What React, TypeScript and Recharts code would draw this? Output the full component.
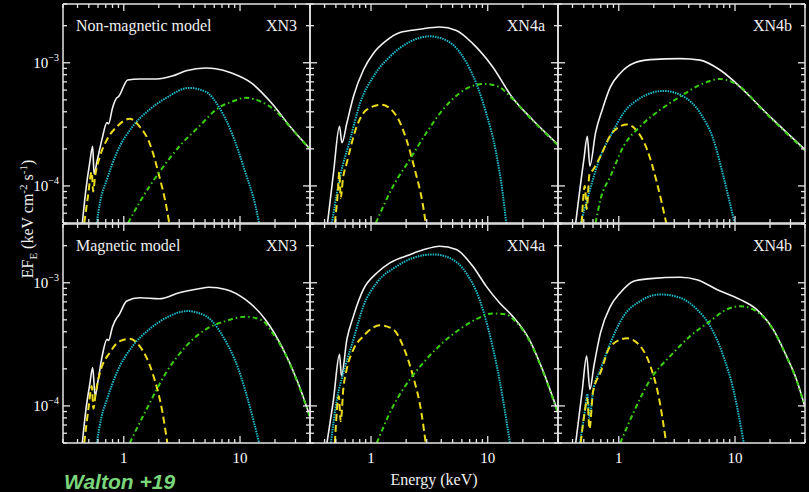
import React from 'react';
import { LineChart, Line, XAxis, YAxis } from 'recharts';

type Pt = [number, number];

// Axis ticks
const xTicks = [0.3, 0.4, 0.5, 0.6, 0.7, 0.8, 0.9, 1, 2, 3, 4, 5, 6, 7, 8, 9, 10, 20, 30, 40];
const yTicks = [5e-5, 6e-5, 7e-5, 8e-5, 9e-5, 1e-4, 2e-4, 3e-4, 4e-4, 5e-4, 6e-4, 7e-4, 8e-4, 9e-4, 1e-3, 2e-3, 3e-3];
const xDomain: [number, number] = [0.3, 40];
const yDomain: [number, number] = [5e-5, 3e-3];

const rowTitles = ['Non-magnetic model', 'Magnetic model'];
const modelNames = ['XN3', 'XN4a', 'XN4b'];

// ---- Non-magnetic, XN3 ----
const nmXN3Total: Pt[] = [[0.44,5e-5],[0.47,9e-5],[0.51,1.55e-4],[0.54,2.1e-4],[0.555,1.25e-4],[0.59,1.6e-4],[0.65,2.4e-4],[0.717,3.27e-4],[0.74,3.2e-4],[0.8,4.3e-4],[0.872,5.19e-4],[0.9,5.3e-4],[1.08,7.25e-4],[1.37,7.39e-4],[1.91,7.39e-4],[2.61,7.8e-4],[3.44,8.6e-4],[5.09,9.06e-4],[6.19,8.95e-4],[8.47,8.26e-4],[12.5,6.86e-4],[18.6,4.73e-4],[27.5,2.97e-4],[40,2.0e-4]];
const nmXN3Cool: Pt[] = [[0.457,5e-5],[0.49,8e-5],[0.53,1.3e-4],[0.545,9e-5],[0.567,1.2e-4],[0.625,1.75e-4],[0.717,2.38e-4],[0.872,3.03e-4],[1.125,3.51e-4],[1.37,3.03e-4],[1.66,2.25e-4],[2.02,1.2e-4],[2.32,6.86e-5],[2.46,5e-5]];
const nmXN3Hot: Pt[] = [[0.586,5e-5],[0.625,7.38e-5],[0.717,1.13e-4],[0.872,1.87e-4],[1.19,3.03e-4],[1.66,4.16e-4],[2.32,5.19e-4],[3.65,6.25e-4],[5.09,5.81e-4],[6.56,4.4e-4],[8.47,2.71e-4],[11.1,1.29e-4],[13.6,6.86e-5],[14.6,5e-5]];
const nmXN3Pulsar: Pt[] = [[1.09,5e-5],[1.37,7.38e-5],[2.02,1.29e-4],[3.0,2.09e-4],[4.43,3.03e-4],[6.56,4.32e-4],[8.47,4.82e-4],[11.1,5.19e-4],[15.2,4.82e-4],[20,4.1e-4],[27.5,2.94e-4],[40,1.98e-4]];

// ---- Magnetic, XN3 ----
const mXN3Total: Pt[] = [[0.44,5e-5],[0.47,9e-5],[0.51,1.5e-4],[0.54,2.05e-4],[0.567,1.2e-4],[0.6,1.6e-4],[0.65,2.5e-4],[0.717,3.47e-4],[0.74,3.4e-4],[0.8,4.4e-4],[0.872,5.2e-4],[0.9,5.4e-4],[1.06,7.1e-4],[1.37,7.55e-4],[2.02,7.41e-4],[3.0,8.3e-4],[4.43,8.94e-4],[5.4,9.2e-4],[7.54,8.83e-4],[11.1,7.32e-4],[16.5,5.04e-4],[22.8,3.06e-4],[31.5,1.55e-4],[40,8.2e-5]];
const mXN3Cool: Pt[] = [[0.457,5e-5],[0.5,1.0e-4],[0.53,1.45e-4],[0.548,9.5e-5],[0.575,1.3e-4],[0.625,1.87e-4],[0.76,2.72e-4],[0.925,3.36e-4],[1.125,3.51e-4],[1.37,3.06e-4],[1.76,1.87e-4],[2.15,8.9e-5],[2.37,5e-5]];
const mXN3Hot: Pt[] = [[0.586,5e-5],[0.64,8e-5],[0.717,1.13e-4],[0.872,1.87e-4],[1.19,3.06e-4],[1.66,4.19e-4],[2.32,5.2e-4],[3.5,5.89e-4],[5.09,5.36e-4],[6.96,3.81e-4],[9.7,1.98e-4],[12.5,8.9e-5],[14.6,5e-5]];
const mXN3Pulsar: Pt[] = [[1.125,5e-5],[1.57,9.4e-5],[2.32,1.87e-4],[3.44,3.06e-4],[5.09,4.19e-4],[7.54,4.89e-4],[11.1,5.3e-4],[15.2,5.0e-4],[20,3.65e-4],[22.8,3.0e-4],[31.5,1.52e-4],[40,8.1e-5]];

// ---- Non-magnetic, XN4a ----
const nmXN4aTotal: Pt[] = [[0.424,5e-5],[0.477,1.28e-4],[0.537,3.05e-4],[0.563,2.24e-4],[0.621,3.24e-4],[0.707,5.32e-4],[0.86,8.73e-4],[1.046,1.19e-3],[1.36,1.52e-3],[1.77,1.76e-3],[2.62,1.87e-3],[3.87,1.95e-3],[5.38,1.83e-3],[7.45,1.43e-3],[11.0,9.29e-4],[16.3,5.2e-4],[24.2,3.45e-4],[40,2.17e-4]];
const nmXN4aCool: Pt[] = [[0.49,5e-5],[0.52,9e-5],[0.535,1.3e-4],[0.55,8e-5],[0.575,1.15e-4],[0.621,1.55e-4],[0.755,3.05e-4],[0.919,4.16e-4],[1.23,4.56e-4],[1.66,3.67e-4],[2.01,2.38e-4],[2.37,1.36e-4],[2.79,6.9e-5],[2.94,5e-5]];
const nmXN4aHot: Pt[] = [[0.462,5e-5],[0.544,1.2e-4],[0.662,2.38e-4],[0.806,4.71e-4],[1.046,7.71e-4],[1.45,1.12e-3],[2.15,1.48e-3],[3.18,1.64e-3],[4.42,1.52e-3],[6.12,1.12e-3],[7.96,6.82e-4],[9.69,3.91e-4],[11.8,1.86e-4],[13.4,8.85e-5],[14.4,5e-5]];
const nmXN4aPulsar: Pt[] = [[1.1,5e-5],[1.55,1.0e-4],[2.15,1.64e-4],[2.98,2.7e-4],[4.13,4.16e-4],[5.74,5.67e-4],[7.96,6.61e-4],[9.69,6.73e-4],[12.6,6.33e-4],[16.3,5.1e-4],[24.2,3.4e-4],[40,2.14e-4]];

// ---- Magnetic, XN4a ----
const mXN4aTotal: Pt[] = [[0.419,5e-5],[0.477,1.13e-4],[0.537,2.62e-4],[0.558,1.75e-4],[0.621,3.47e-4],[0.707,5.36e-4],[0.86,8.83e-4],[1.12,1.2e-3],[1.45,1.45e-3],[2.15,1.69e-3],[2.8,1.85e-3],[3.87,1.98e-3],[5.38,1.86e-3],[7.45,1.36e-3],[9.69,9.39e-4],[12.6,6.88e-4],[16.3,5.36e-4],[22.7,3.47e-4],[29.4,1.98e-4],[40,8.9e-5]];
const mXN4aCool: Pt[] = [[0.49,5e-5],[0.53,1.2e-4],[0.55,7.5e-5],[0.58,1.4e-4],[0.62,2.0e-4],[0.707,2.88e-4],[0.86,3.69e-4],[1.19,4.51e-4],[1.55,4.19e-4],[1.88,3.06e-4],[2.29,1.75e-4],[2.7,8.85e-5],[2.94,5e-5]];
const mXN4aHot: Pt[] = [[0.453,5e-5],[0.51,1.13e-4],[0.581,1.87e-4],[0.707,3.47e-4],[0.86,6.46e-4],[1.12,1.0e-3],[1.66,1.36e-3],[2.29,1.59e-3],[3.4,1.7e-3],[4.72,1.59e-3],[6.54,1.2e-3],[8.5,7.33e-4],[10.3,3.94e-4],[12.6,1.64e-4],[14.4,7.8e-5],[15.5,5e-5]];
const mXN4aPulsar: Pt[] = [[1.12,5e-5],[1.55,1.0e-4],[2.15,1.64e-4],[2.98,2.39e-4],[4.13,3.27e-4],[5.74,4.19e-4],[7.96,5.05e-4],[11.0,5.64e-4],[14.4,5.53e-4],[17.5,4.8e-4],[22.7,3.4e-4],[29.4,1.95e-4],[40,8.7e-5]];

// ---- Non-magnetic, XN4b ----
const nmXN4bTotal: Pt[] = [[0.426,5e-5],[0.501,1.64e-4],[0.536,2.53e-4],[0.564,1.45e-4],[0.631,2.7e-4],[0.721,4.16e-4],[0.849,6.4e-4],[1.03,8.22e-4],[1.34,9.89e-4],[1.87,1.06e-3],[3.38,1.08e-3],[5.01,1.05e-3],[7.44,8.73e-4],[11.0,6.4e-4],[15.3,4.71e-4],[21.3,3.45e-4],[40,1.97e-4]];
const nmXN4bCool: Pt[] = [[0.48,5e-5],[0.51,1.0e-4],[0.53,6.5e-5],[0.56,1.25e-4],[0.6,1.35e-4],[0.697,1.75e-4],[0.878,2.7e-4],[1.18,3.15e-4],[1.44,2.78e-4],[1.75,1.98e-4],[2.13,1.06e-4],[2.56,5e-5]];
const nmXN4bHot: Pt[] = [[0.47,5e-5],[0.536,7.8e-5],[0.697,1.75e-4],[0.878,2.7e-4],[1.1,3.91e-4],[1.53,5.16e-4],[2.43,5.91e-4],[3.6,5.32e-4],[5.01,3.91e-4],[6.52,2.38e-4],[7.94,1.2e-4],[9.9,5e-5]];
const nmXN4bPulsar: Pt[] = [[0.631,5e-5],[0.697,7.8e-5],[0.849,1.2e-4],[1.1,2.1e-4],[1.53,3.05e-4],[2.28,4.16e-4],[3.38,5.32e-4],[5.01,6.61e-4],[7.44,7.39e-4],[9.67,6.9e-4],[12.6,5.75e-4],[15.3,4.66e-4],[21.3,3.4e-4],[40,1.94e-4]];

// ---- Magnetic, XN4b ----
const mXN4bTotal: Pt[] = [[0.426,5e-5],[0.486,1.36e-4],[0.529,2.54e-4],[0.564,1.36e-4],[0.611,2.11e-4],[0.697,3.94e-4],[0.849,6.46e-4],[1.03,8.3e-4],[1.34,1.03e-3],[1.87,1.08e-3],[3.38,1.11e-3],[4.7,1.06e-3],[6.97,8.83e-4],[11.0,7.33e-4],[15.3,6.08e-4],[21.3,4.19e-4],[27.7,2.54e-4],[33.8,1.64e-4],[40,9.8e-5]];
const mXN4bCool: Pt[] = [[0.47,5e-5],[0.51,9e-5],[0.536,1.15e-4],[0.56,6.5e-5],[0.6,1.3e-4],[0.697,1.87e-4],[0.849,3.06e-4],[1.18,3.54e-4],[1.53,3.06e-4],[1.87,2.11e-4],[2.2,1.2e-4],[2.56,5e-5]];
const mXN4bHot: Pt[] = [[0.463,5e-5],[0.51,9e-5],[0.536,1.25e-4],[0.56,8e-5],[0.6,1.3e-4],[0.697,1.98e-4],[0.849,3.27e-4],[1.1,5.36e-4],[1.53,7.1e-4],[2.28,8.04e-4],[3.38,7.55e-4],[4.7,6.08e-4],[6.11,4.45e-4],[7.94,2.54e-4],[9.67,1.36e-4],[11.9,5e-5]];
const mXN4bPulsar: Pt[] = [[1.03,5e-5],[1.34,8.85e-5],[1.87,1.64e-4],[2.77,2.54e-4],[4.12,3.69e-4],[6.11,4.89e-4],[8.49,6.08e-4],[11.0,6.46e-4],[14.3,6.08e-4],[21.3,4.15e-4],[27.7,2.52e-4],[33.8,1.62e-4],[40,9.7e-5]];

const SERIF = '"Liberation Serif", "Times New Roman", serif';
const AXIS = '#e6e6e6';
const WHITE = '#f2f2f2';
const YELLOW = '#eadc1c';
const CYAN = '#1cbccc';
const GREEN = '#3ccf10';

const toObj = (pts: Pt[]) => pts.map(([x, y]) => ({ x, y }));
const isMajor = (v: number) => {
  const l = Math.log10(v);
  return Math.abs(l - Math.round(l)) < 1e-6;
};

const makeXTick = (side: 'bottom' | 'top', showLabel: boolean) => (props: any) => {
  const { x, y, payload } = props;
  const v = payload.value as number;
  const major = isMajor(v);
  const len = major ? 7 : 4;
  const d = side === 'bottom' ? -1 : 1;
  return (
    <g>
      <line x1={x} y1={y} x2={x} y2={y + d * len} stroke={AXIS} strokeWidth={1.3} />
      {showLabel && major && side === 'bottom' ? (
        <text x={x} y={y + 20} textAnchor="middle" fill="#ffffff" fontSize={15} fontFamily={SERIF}>
          {String(v)}
        </text>
      ) : null}
    </g>
  );
};

const makeYTick = (side: 'left' | 'right', showLabel: boolean) => (props: any) => {
  const { x, y, payload } = props;
  const v = payload.value as number;
  const major = isMajor(v);
  const len = major ? 7 : 4;
  const d = side === 'left' ? 1 : -1;
  const exp = Math.round(Math.log10(v));
  return (
    <g>
      <line x1={x} y1={y} x2={x + d * len} y2={y} stroke={AXIS} strokeWidth={1.3} />
      {showLabel && major && side === 'left' ? (
        <text x={x - 4} y={y + 5} textAnchor="end" fill="#ffffff" fontSize={15} fontFamily={SERIF}>
          10<tspan dy={-7} fontSize={10}>{'\u2212' + String(-exp)}</tspan>
        </text>
      ) : null}
    </g>
  );
};

const cols = [
  { left: 63, w: 247 },
  { left: 310, w: 248 },
  { left: 558, w: 247 },
];
const rows = [
  { top: 4, h: 219 },
  { top: 224, h: 219 },
];

const panels = [
  { r: 0, c: 0, total: nmXN3Total, cool: nmXN3Cool, hot: nmXN3Hot, pulsar: nmXN3Pulsar },
  { r: 0, c: 1, total: nmXN4aTotal, cool: nmXN4aCool, hot: nmXN4aHot, pulsar: nmXN4aPulsar },
  { r: 0, c: 2, total: nmXN4bTotal, cool: nmXN4bCool, hot: nmXN4bHot, pulsar: nmXN4bPulsar },
  { r: 1, c: 0, total: mXN3Total, cool: mXN3Cool, hot: mXN3Hot, pulsar: mXN3Pulsar },
  { r: 1, c: 1, total: mXN4aTotal, cool: mXN4aCool, hot: mXN4aHot, pulsar: mXN4aPulsar },
  { r: 1, c: 2, total: mXN4bTotal, cool: mXN4bCool, hot: mXN4bHot, pulsar: mXN4bPulsar },
];

// chart margin around the plot (axes take 1px each)
const M = { top: 3, right: 5, bottom: 39, left: 59 };
const AX = 1;

function Panel({ p }: { p: (typeof panels)[number] }) {
  const col = cols[p.c];
  const row = rows[p.r];
  const showY = p.c === 0;
  const showX = p.r === 1;
  const axisLine = { stroke: AXIS, strokeWidth: 1.5 };
  const W = col.w + M.left + M.right + 2 * AX;
  const H = row.h + M.top + M.bottom + 2 * AX;
  return (
    <div style={{ position: 'absolute', left: col.left - M.left - AX, top: row.top - M.top - AX }}>
      <LineChart width={W} height={H} margin={M}>
        <XAxis
          xAxisId="b"
          dataKey="x"
          type="number"
          scale="log"
          domain={xDomain}
          allowDataOverflow
          ticks={xTicks}
          interval={0}
          height={AX}
          tickSize={0}
          tickMargin={0}
          tickLine={false}
          axisLine={axisLine}
          tick={makeXTick('bottom', showX)}
        />
        <XAxis
          xAxisId="t"
          orientation="top"
          dataKey="x"
          type="number"
          scale="log"
          domain={xDomain}
          allowDataOverflow
          ticks={xTicks}
          interval={0}
          height={AX}
          tickSize={0}
          tickMargin={0}
          tickLine={false}
          axisLine={axisLine}
          tick={makeXTick('top', false)}
        />
        <YAxis
          yAxisId="l"
          type="number"
          scale="log"
          domain={yDomain}
          allowDataOverflow
          ticks={yTicks}
          interval={0}
          width={AX}
          tickSize={0}
          tickMargin={0}
          tickLine={false}
          axisLine={axisLine}
          tick={makeYTick('left', showY)}
        />
        <YAxis
          yAxisId="r"
          orientation="right"
          type="number"
          scale="log"
          domain={yDomain}
          allowDataOverflow
          ticks={yTicks}
          interval={0}
          width={AX}
          tickSize={0}
          tickMargin={0}
          tickLine={false}
          axisLine={axisLine}
          tick={makeYTick('right', false)}
        />
        <Line xAxisId="b" yAxisId="l" data={toObj(p.total)} dataKey="y" type="monotone" stroke={WHITE} strokeWidth={1.6} dot={false} isAnimationActive={false} />
        <Line xAxisId="b" yAxisId="l" data={toObj(p.hot)} dataKey="y" type="monotone" stroke={CYAN} strokeWidth={2} strokeDasharray="1.5 1" dot={false} isAnimationActive={false} />
        <Line xAxisId="b" yAxisId="l" data={toObj(p.cool)} dataKey="y" type="monotone" stroke={YELLOW} strokeWidth={2} strokeDasharray="7 4" dot={false} isAnimationActive={false} />
        <Line xAxisId="b" yAxisId="l" data={toObj(p.pulsar)} dataKey="y" type="monotone" stroke={GREEN} strokeWidth={2} strokeDasharray="5 3 1.5 3" dot={false} isAnimationActive={false} />
      </LineChart>
    </div>
  );
}

export default function App() {
  return (
    <div style={{ position: 'absolute', left: 0, top: 0, width: 809, height: 492, background: '#000', overflow: 'hidden' }}>
      {panels.map((p, i) => (
        <Panel key={i} p={p} />
      ))}
      <svg width={809} height={492} style={{ position: 'absolute', left: 0, top: 0, pointerEvents: 'none' }}>
        {panels.map((p, i) => {
          const col = cols[p.c];
          const row = rows[p.r];
          return (
            <g key={i}>
              {p.c === 0 ? (
                <text x={col.left + 13} y={row.top + 27} fill="#f0f0f0" fontSize={16} fontFamily={SERIF}>
                  {rowTitles[p.r]}
                </text>
              ) : null}
              <text x={col.left + col.w - 13} y={row.top + 27} textAnchor="end" fill="#f0f0f0" fontSize={16} fontFamily={SERIF}>
                {modelNames[p.c]}
              </text>
            </g>
          );
        })}
        <text transform="translate(33,219) rotate(-90)" textAnchor="middle" fill="#f0f0f0" fontSize={16} fontFamily={SERIF}>
          EF<tspan dy={4} fontSize={11}>E</tspan>
          <tspan dy={-4}> (keV cm</tspan>
          <tspan dy={-6} fontSize={11}>-2</tspan>
          <tspan dy={6}> s</tspan>
          <tspan dy={-6} fontSize={11}>-1</tspan>
          <tspan dy={6}>)</tspan>
        </text>
        <text x={434} y={485} textAnchor="middle" fill="#f0f0f0" fontSize={16} fontFamily={SERIF}>
          Energy (keV)
        </text>
        <text x={64} y={489} fill="#7ad67a" fontSize={21} fontWeight="bold" fontStyle="italic" fontFamily='"Liberation Sans", Arial, sans-serif'>
          Walton +19
        </text>
      </svg>
    </div>
  );
}
